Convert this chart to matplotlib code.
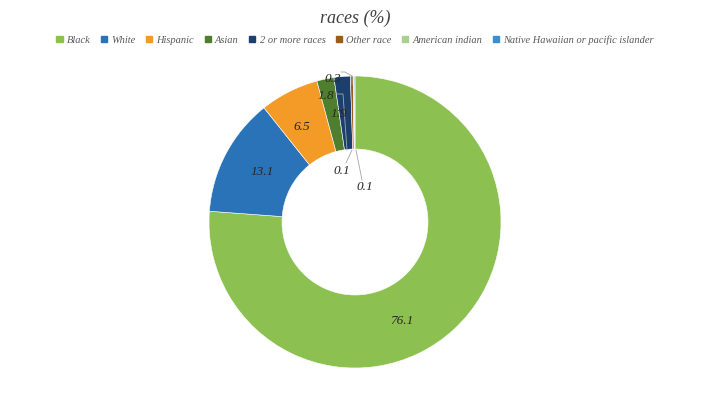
import matplotlib.pyplot as plt
import numpy as np

categories = ["Black", "White", "Hispanic", "Asian", "2 or more races",
              "Other race", "American indian", "Native Hawaiian or pacific islander"]
values = [76.1, 13.1, 6.5, 1.9, 1.8, 0.3, 0.1, 0.1]
labels = ["76.1", "13.1", "6.5", "1.9", "1.8", "0.3", "0.1", "0.1"]
colors = ["#8cc152", "#2a73b8", "#f49b27", "#4f7f2e", "#1d3f6e",
          "#9c5b1b", "#a9d18e", "#3a8fd0"]

H = 399
fig = plt.figure(figsize=(7.1, 3.99), dpi=100)
ax = fig.add_axes([0, 0, 1, 1])

cx, cy, r = 355, H - 222, 146
wedges, _ = ax.pie(values, colors=colors, startangle=90, counterclock=False,
                   center=(cx, cy), radius=r,
                   wedgeprops=dict(width=r * 0.5, edgecolor="white", linewidth=0.4))
ax.set_xlim(0, 710)
ax.set_ylim(0, H)
ax.set_aspect("auto")
ax.axis("off")

font = dict(family="Liberation Serif", style="italic")

fig.text(0.5, 1 - 18 / H, "races (%)", ha="center", va="center",
         fontsize=13, color="#404040", **font)

# legend
handles = [plt.Rectangle((0, 0), 1, 1, color=c) for c in colors]
leg = fig.legend(handles, categories, loc="center", bbox_to_anchor=(0.5, 1 - 40 / H),
                 ncol=8, frameon=False, handlelength=0.6, handleheight=0.6,
                 handletextpad=0.4, columnspacing=1.0,
                 prop=dict(family="Liberation Serif", style="italic", size=7.5))
for t in leg.get_texts():
    t.set_color("#595959")

# data labels (pixel positions from top)
pos = [(402, 321), (262, 172), (302, 127), (339, 114), (326, 96),
       (333, 79), (342, 171), (365, 187)]
for (x, y), s in zip(pos, labels):
    ax.text(x, H - y, s, ha="center", va="center", fontsize=9.5, color="#262626", **font)

lc = "#a6a6a6"
leaders = [
    ([338, 345], [110, 110], "#333333"),
    ([336, 343, 347], [94, 94, 150], lc),
    ([341, 345, 352, 352], [72, 72, 76, 85], lc),
    ([346, 352], [163, 150], lc),
    ([362, 356], [180, 150], lc),
]
for xs, ys, c in leaders:
    ax.plot(xs, [H - v for v in ys], color=c, lw=0.6)

fig.savefig("out.png", dpi=100)
